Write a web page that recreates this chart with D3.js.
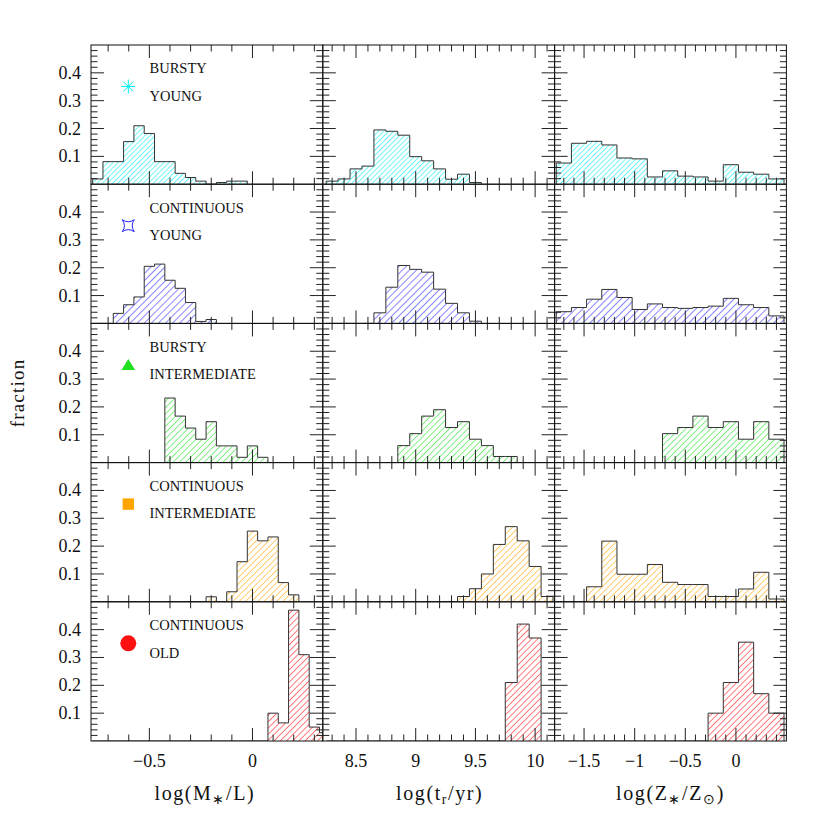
<!DOCTYPE html>
<html><head><meta charset="utf-8">
<script src="https://cdn.jsdelivr.net/npm/d3@7"></script>
<style>body{margin:0;background:#fff}</style>
</head><body><svg id="c" width="830" height="830"></svg>
<script>
// ---------------- data ----------------
const rowLabelTop = ["BURSTY", "CONTINUOUS", "BURSTY", "CONTINUOUS", "CONTINUOUS"];
const rowLabelBottom = ["YOUNG", "YOUNG", "INTERMEDIATE", "INTERMEDIATE", "OLD"];
const rowColors = ["#00f0f0", "#2020ff", "#20e020", "#ffa500", "#ff1010"];
const rowMarkers = ["asterisk", "star4", "triangle", "square", "circle"];
const hatchSpacing = [3.6, 5, 4.4, 4.4, 4.4];

const colDomains = [[-0.783, 0.341], [8.222, 10.163], [-1.791, 0.4985]];
const colBinStart = [-0.775, 8.25, -1.775];
const colBinWidth = [0.05, 0.1, 0.15];
const colTickLabels = [[-0.5, 0], [8.5, 9, 9.5, 10], [-1.5, -1, -0.5, 0]];
const yTickLabels = [0.1, 0.2, 0.3, 0.4];

// fractions per bin (first bin starts at colBinStart)
const mlBurstyYoung      = [0.019,0.081,0.081,0.153,0.210,0.182,0.081,0.081,0.039,0.024,0.011,0,0.006,0.011,0.011];
const mlContYoung        = [0,0,0.036,0.067,0.095,0.205,0.213,0.155,0.126,0.075,0.007,0.014];
const mlBurstyInter      = [0,0,0,0,0,0,0,0.232,0.167,0.124,0.084,0.147,0.060,0.060,0.019,0.060,0.019];
const mlContInter        = [0,0,0,0,0,0,0,0,0,0,0,0.018,0,0.036,0.144,0.254,0.219,0.233,0.069,0.025];
const mlContOld          = [0,0,0,0,0,0,0,0,0,0,0,0,0,0,0,0,0,0.100,0.065,0.470,0.310,0.050,0.030];

const ageBurstyYoung     = [0.011,0.019,0.055,0.065,0.195,0.190,0.176,0.099,0.084,0.055,0.018,0.036,0.006];
const ageContYoung       = [0,0,0,0,0.038,0.130,0.208,0.194,0.184,0.123,0.072,0.038,0.008];
const ageBurstyInter     = [0,0,0,0,0,0,0.061,0.104,0.167,0.190,0.126,0.147,0.084,0.061,0.022,0.022];
const ageContInter       = [0,0,0,0,0,0,0,0,0,0,0,0.019,0.047,0.100,0.206,0.270,0.219,0.127,0.019];
const ageContOld         = [0,0,0,0,0,0,0,0,0,0,0,0,0,0,0,0.210,0.420,0.370];

const zBurstyYoung       = [0.076,0.147,0.154,0.141,0.094,0.091,0.026,0.048,0.029,0.026,0.011,0.070,0.043,0.036,0.019];
const zContYoung         = [0.042,0.057,0.087,0.122,0.093,0.050,0.070,0.057,0.054,0.057,0.062,0.090,0.067,0.057,0.027];
const zBurstyInter       = [0,0,0,0,0,0,0,0.104,0.126,0.167,0.126,0.147,0.084,0.147,0.084];
const zContInter         = [0,0,0.054,0.218,0.099,0.099,0.134,0.070,0.062,0.062,0.019,0.019,0.046,0.106,0.010];
const zContOld           = [0,0,0,0,0,0,0,0,0,0,0.100,0.210,0.355,0.170,0.100];

const panelData = [
  [mlBurstyYoung, ageBurstyYoung, zBurstyYoung],
  [mlContYoung, ageContYoung, zContYoung],
  [mlBurstyInter, ageBurstyInter, zBurstyInter],
  [mlContInter, ageContInter, zContInter],
  [mlContOld, ageContOld, zContOld]
];

// ---------------- layout ----------------
const padLeft = 91, padTop = 45, colW = 231.8, rowH = 139.2;
const svg = d3.select("#c");
const serif = "'Liberation Serif', 'Times New Roman', serif";
const defs = svg.append("defs");

rowColors.forEach((c, r) => {
  const s = hatchSpacing[r];
  const p = defs.append("pattern").attr("id", "hatch" + r)
    .attr("patternUnits", "userSpaceOnUse").attr("width", s).attr("height", s)
    .attr("patternTransform", "rotate(45)");
  p.append("line").attr("x1", 0).attr("y1", 0).attr("x2", 0).attr("y2", s)
    .attr("stroke", c).attr("stroke-width", 1.1);
});

const fmt = v => (v < 0 ? "\u2212" : "") + String(Math.abs(v));

for (let r = 0; r < 5; r++) {
  for (let c = 0; c < 3; c++) {
    const x0 = padLeft + c * colW, y0 = padTop + r * rowH;
    const x = d3.scaleLinear().domain(colDomains[c]).range([x0, x0 + colW]);
    const y = d3.scaleLinear().domain([0, 0.5]).range([y0 + rowH, y0]);
    const g = svg.append("g");
    const clipId = `clip${r}_${c}`;
    defs.append("clipPath").attr("id", clipId).append("rect")
      .attr("x", x0).attr("y", y0).attr("width", colW).attr("height", rowH);

    // histogram
    const vals = panelData[r][c];
    const bw = colBinWidth[c], b0 = colBinStart[c];
    const pts = [[x(b0), y(0)]];
    vals.forEach((v, i) => {
      pts.push([x(b0 + i * bw), y(v)]);
      pts.push([x(b0 + (i + 1) * bw), y(v)]);
    });
    pts.push([x(b0 + vals.length * bw), y(0)]);
    const line = d3.line();
    const hg = g.append("g").attr("clip-path", `url(#${clipId})`);
    hg.append("path").attr("d", line(pts) + "Z").attr("fill", `url(#hatch${r})`).attr("stroke", "none");
    hg.append("path").attr("d", line(pts)).attr("fill", "none").attr("stroke", "#333").attr("stroke-width", 1);

    // ticks
    const tk = g.append("g").attr("stroke", "#222").attr("stroke-width", 1);
    const yMinor = d3.range(1, 25).map(k => k * 0.02);
    yMinor.forEach(v => {
      const major = Math.abs(v * 10 - Math.round(v * 10)) < 1e-6;
      const L = major ? 13 : 6.5;
      const yy = y(v);
      tk.append("line").attr("x1", x0).attr("x2", x0 + L).attr("y1", yy).attr("y2", yy);
      tk.append("line").attr("x1", x0 + colW).attr("x2", x0 + colW - L).attr("y1", yy).attr("y2", yy);
    });
    const d = colDomains[c];
    const xt = d3.range(Math.ceil(d[0] * 10), Math.floor(d[1] * 10) + 1).map(k => k / 10);
    xt.forEach(v => {
      const major = Math.abs(v * 2 - Math.round(v * 2)) < 1e-6;
      const L = major ? 13 : 6.5;
      const xx = x(v);
      tk.append("line").attr("x1", xx).attr("x2", xx).attr("y1", y0 + rowH).attr("y2", y0 + rowH - L);
      tk.append("line").attr("x1", xx).attr("x2", xx).attr("y1", y0).attr("y2", y0 + L);
    });
    g.append("rect").attr("x", x0).attr("y", y0).attr("width", colW).attr("height", rowH)
      .attr("fill", "none").attr("stroke", "#111").attr("stroke-width", 1);

    if (c === 0) {
      yTickLabels.forEach(v => {
        svg.append("text").attr("x", x0 - 10).attr("y", y(v) + 6)
          .attr("text-anchor", "end").attr("font-family", serif).attr("font-size", 18)
          .attr("fill", "#111").text(v.toFixed(1));
      });
      // legend text
      svg.append("text").attr("x", 149.5).attr("y", y0 + 28.3).attr("font-family", serif)
        .attr("font-size", 14.5).attr("fill", "#111").text(rowLabelTop[r]);
      svg.append("text").attr("x", 149.5).attr("y", y0 + 55.7).attr("font-family", serif)
        .attr("font-size", 14.5).attr("fill", "#111").text(rowLabelBottom[r]);
      const mx = 128.3, my = y0 + 41.5;
      const col = rowColors[r];
      const m = svg.append("g").attr("transform", `translate(${mx},${my})`);
      if (rowMarkers[r] === "asterisk") {
        [0, 45, 90, 135].forEach(a => {
          const rad = a * Math.PI / 180, R = 7;
          m.append("line").attr("x1", -R * Math.cos(rad)).attr("y1", -R * Math.sin(rad))
            .attr("x2", R * Math.cos(rad)).attr("y2", R * Math.sin(rad))
            .attr("stroke", col).attr("stroke-width", 1);
        });
      } else if (rowMarkers[r] === "star4") {
        const R = 6;
        m.append("path").attr("d", `M${-R},${-R} Q0,${-R * 0.3} ${R},${-R} Q${R * 0.3},0 ${R},${R} Q0,${R * 0.3} ${-R},${R} Q${-R * 0.3},0 ${-R},${-R}Z`)
          .attr("fill", "none").attr("stroke", col).attr("stroke-width", 1);
      } else if (rowMarkers[r] === "triangle") {
        m.append("path").attr("d", "M0,-6 L6.8,5 L-6.8,5Z").attr("fill", col);
      } else if (rowMarkers[r] === "square") {
        m.append("rect").attr("x", -5.7).attr("y", -5.7).attr("width", 11.4).attr("height", 11.4).attr("fill", col);
      } else {
        m.append("circle").attr("r", 8).attr("fill", col);
      }
    }
    if (r === 4) {
      colTickLabels[c].forEach(v => {
        svg.append("text").attr("x", x(v)).attr("y", y0 + rowH + 26)
          .attr("text-anchor", "middle").attr("font-family", serif).attr("font-size", 18)
          .attr("fill", "#111").text(fmt(v));
      });
    }
  }
}

// axis titles
const titleY = 800;
function title(cx, parts) {
  const t = svg.append("text").attr("x", cx).attr("y", titleY).attr("text-anchor", "middle")
    .attr("font-family", serif).attr("font-size", 20).attr("fill", "#111").attr("letter-spacing", 1.6);
  parts.forEach(p => {
    const ts = t.append("tspan").text(p[0]);
    if (p[1] === "sub") ts.attr("font-size", 14).attr("dy", 4);
    if (p[1] === "up") ts.attr("dy", -4);
  });
}
title(padLeft + colW * 0.5 - 2, [["log(M"], ["\u2217", "sub"], ["/L)", "up"]]);
title(padLeft + colW * 1.5 + 1, [["log(t"], ["r", "sub"], ["/yr)", "up"]]);
title(padLeft + colW * 2.5, [["log(Z"], ["\u2217", "sub"], ["/Z", "up"], ["\u2299", "sub"], [")", "up"]]);

svg.append("text").attr("transform", `translate(24,${padTop + rowH * 2.5}) rotate(-90)`)
  .attr("text-anchor", "middle").attr("font-family", serif).attr("font-size", 19)
  .attr("letter-spacing", 1.2).attr("fill", "#111").text("fraction");
</script>
</body></html>
